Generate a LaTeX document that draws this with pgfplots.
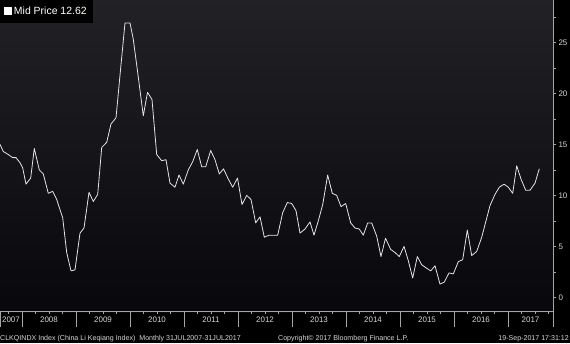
\documentclass[border=0pt]{standalone}
\usepackage{fontspec}
\setmainfont{Liberation Sans}
\usepackage{pgfplots}
\usepackage{pgfplotstable}
\pgfplotsset{compat=1.18}
\definecolor{bgtop}{RGB}{34,34,38}
\definecolor{bgbot}{RGB}{8,8,12}
\definecolor{axgray}{RGB}{165,165,165}
\definecolor{linegray}{RGB}{228,228,228}
\definecolor{txtgray}{RGB}{215,215,215}

% px = horizontal position (pixels), v = index value
\pgfplotstableread{
px v
0 15.0
3.3 14.3
8.3 14.0
12.7 13.7
16 13.7
20 13.2
22.7 12.7
26 11.1
30.7 11.7
34.3 14.6
39.3 12.5
43.3 12.1
48.3 10.2
52.7 10.4
56.7 9.6
60 8.6
62.7 7.8
66.7 4.4
71 2.6
75 2.7
80 6.3
84 6.8
89 10.3
93.3 9.4
97.7 10.1
101.7 14.7
106.7 15.2
111 17.0
116 17.6
120.5 22.3
125 26.9
130 26.9
133.3 25.3
138.3 21.6
143.3 17.8
147.5 20.1
152 19.4
156.7 14.0
161.7 13.4
166 13.5
170 11.2
175 10.8
179 12.0
183.3 11.1
188.3 12.5
192.7 13.3
197.3 14.5
201.7 12.8
205.7 12.8
210.7 14.4
215 13.5
219.3 12.1
223.5 12.6
228.3 11.6
232.7 10.8
237.5 11.7
242 9.1
246.7 10.0
251 9.6
255.7 7.3
260 7.9
264.3 5.9
269.3 6.1
273.3 6.1
277.7 6.1
282.7 8.3
287.3 9.3
291.7 9.2
296 8.5
300 6.3
305 6.7
310 7.4
314 6.1
318.3 7.5
322.7 9.1
327.7 12.0
332.3 10.2
336.7 10.0
341 8.9
345.7 9.2
350.7 7.3
355 6.8
359.3 6.7
363.3 6.1
367.7 7.3
371.7 7.3
376.7 6.0
381 4.0
385.5 5.8
390.7 4.7
395 4.4
399.3 4.0
404 5.0
408.3 3.6
412.7 1.9
417.3 4.0
421.7 3.2
426 2.9
430.7 2.6
435 3.1
440 1.3
444.3 1.5
449 2.4
453.3 2.3
458.3 3.5
462.7 3.7
467.3 6.6
471.7 4.1
476.7 4.5
481.7 5.9
486 7.5
490 9.0
495 10.1
499.3 10.8
504 11.1
508.3 10.8
512.7 10.2
516.7 12.9
521 11.6
525.7 10.5
530 10.5
535 11.2
539.3 12.62
}\clk

\begin{document}
\begin{tikzpicture}[x=1bp,y=1bp]
\useasboundingbox (0,0) rectangle (570,343);
\fill[black] (0,0) rectangle (570,343);
\shade[top color=bgtop, bottom color=bgbot] (0,31) rectangle (553,343);
\begin{axis}[
  at={(0,31)}, anchor=south west,
  scale only axis, width=553bp, height=312bp,
  xmin=2007.5926, xmax=2017.8333, ymin=-1.373, ymax=29.216,
  axis x line*=bottom, axis y line*=right,
  axis line style={draw=axgray, line width=0.6bp, -},
  tick align=outside,
  major tick length=3bp, minor tick length=3bp,
  tick style={draw=axgray, line width=0.6bp},
  ytick={0,5,10,15,20,25}, minor ytick={2.5,7.5,12.5,17.5,22.5,27.5},
  xtick={2007.5926,2008,2009,2010,2011,2012,2013,2014,2015,2016,2017,2017.8333},
  x tick label as interval=true,
  xticklabels={2007,2008,2009,2010,2011,2012,2013,2014,2015,2016,2017},
  major x tick style={/pgfplots/major tick length=16bp},
  minor xtick={2007.75,2008.25,2008.5,2008.75,2009.25,2009.5,2009.75,2010.25,2010.5,2010.75,2011.25,2011.5,2011.75,2012.25,2012.5,2012.75,2013.25,2013.5,2013.75,2014.25,2014.5,2014.75,2015.25,2015.5,2015.75,2016.25,2016.5,2016.75,2017.25,2017.5,2017.75},
  /pgf/number format/assume math mode=true,
  ticklabel style={font=\fontsize{8}{9}\selectfont, text=txtgray},
  yticklabel style={anchor=west, xshift=-1bp},
  xticklabel style={yshift=1bp},
  legend style={at={(0,1)}, anchor=north west, fill=black, draw=none,
    text=white, font=\fontsize{10.5}{12}\selectfont,
    inner xsep=4bp, inner ysep=5bp},
  legend cell align=left,
  legend image code/.code={\fill[white] (0bp,-3.4bp) rectangle (7bp,3.4bp);},
]
\addplot[linegray, line width=0.8bp, line join=round]
  table[x expr={2008+(\thisrow{px}-22)/54}, y=v] {\clk};
\addlegendentry{Mid Price 12.62}
\end{axis}
\node[anchor=base west, inner sep=0, text=txtgray, font=\fontsize{7.1}{8}\selectfont] at (0,3) {CLKQINDX Index (China Li Keqiang Index)\ \ Monthly 31JUL2007-31JUL2017};
\node[anchor=base west, inner sep=0, text=txtgray, font=\fontsize{7.1}{8}\selectfont] at (278,3) {Copyright© 2017 Bloomberg Finance L.P.};
\node[anchor=base east, inner sep=0, text=txtgray, font=\fontsize{7.1}{8}\selectfont] at (569,3) {19-Sep-2017 17:31:12};
\end{tikzpicture}
\end{document}
